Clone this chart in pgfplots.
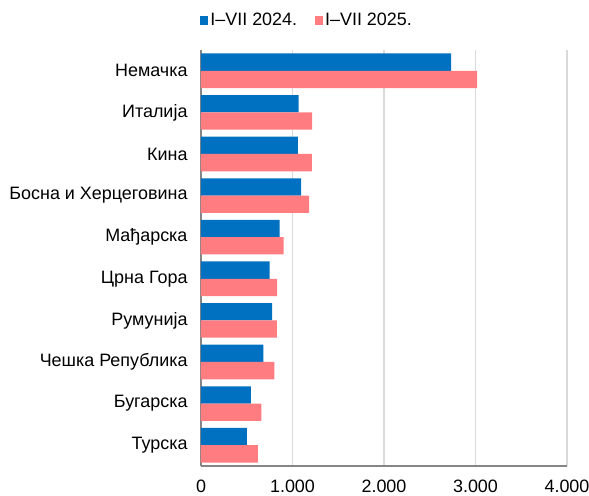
\documentclass[border=0pt]{standalone}
\usepackage{pgfplots}
\pgfplotsset{compat=1.18}
\usepackage{fontspec}
\setmainfont{Liberation Sans}
\definecolor{cblue}{HTML}{0070C0}
\definecolor{cpink}{HTML}{FF7C80}
\definecolor{cgrid}{HTML}{D9D9D9}
\definecolor{caxis}{HTML}{868686}
\begin{document}
\begin{tikzpicture}
\begin{axis}[
  at={(0,0)}, anchor=south west,
  scale only axis,
  width=366bp, height=416bp,
  xbar, bar width=17.3bp,
  xmin=0, xmax=4000,
  ymin=-0.5, ymax=9.5,
  xtick={0,1000,2000,3000,4000},
  ytick={0,...,9},
  yticklabels={Турска,Бугарска,Чешка Република,Румунија,Црна Гора,Мађарска,Босна и Херцеговина,Кина,Италија,Немачка},
  /pgf/number format/1000 sep={.},
  /pgf/number format/assume math mode=true,
  font=\fontsize{18}{21}\selectfont,
  tick label style={font=\fontsize{18}{21}\selectfont},
  major tick length=0pt,
  xmajorgrids, grid style={cgrid, line width=1.3bp},
  axis x line*=bottom, axis y line*=left,
  axis line style={caxis, line width=1.5bp},
  x axis line style={-}, y axis line style={-},
  xticklabel style={yshift=-10bp},
  yticklabel style={xshift=-10bp},
  legend style={draw=none, at={(0.29,1.072)}, anchor=center, legend columns=2,
    /tikz/every even column/.append style={column sep=16bp},
    font=\fontsize{18}{21}\selectfont},
  legend image code/.code={\fill[#1] (0bp,-4.5bp) rectangle (8bp,4.5bp);},
]
\addplot[fill=cblue, draw=none, bar shift=8.65bp] coordinates {
(501,0) (545,1) (683,2) (778,3) (749,4) (858,5) (1095,6) (1058,7) (1066,8) (2734,9)};
\addplot[fill=cpink, draw=none, bar shift=-8.65bp] coordinates {
(621,0) (661,1) (803,2) (829,3) (832,4) (902,5) (1182,6) (1211,7) (1215,8) (3018,9)};
\legend{I–VII 2024., I–VII 2025.}
\end{axis}
\pgfresetboundingbox
\path (-201bp,-30bp) rectangle (388bp,466bp);
\end{tikzpicture}
\end{document}
